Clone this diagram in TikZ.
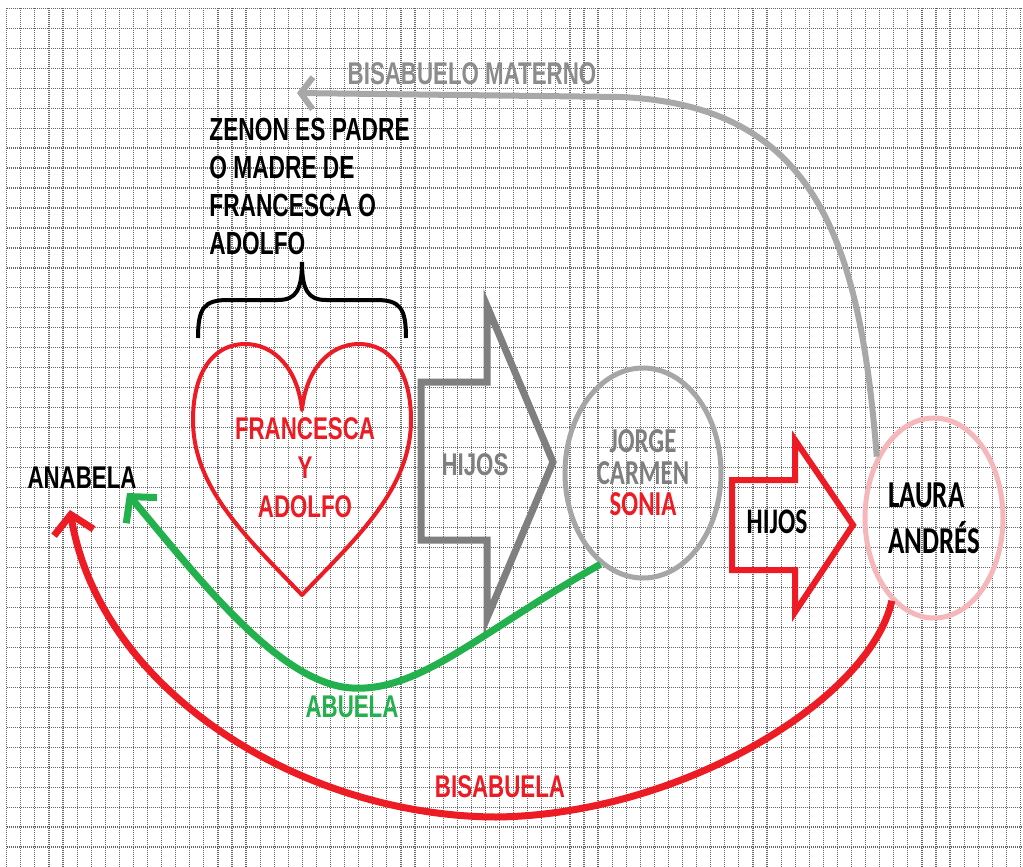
\documentclass[tikz,border=0pt]{standalone}
\usepackage{fontspec}
\setmainfont{Liberation Sans}[FakeStretch=0.71]
\newfontfamily\calibrifont{Carlito}[FakeStretch=0.71]
\usetikzlibrary{arrows.meta,shapes.geometric}

\definecolor{redx}{RGB}{237,28,36}
\definecolor{greenx}{RGB}{34,177,76}
\definecolor{arrowgray}{RGB}{127,127,127}
\definecolor{ringgray}{RGB}{166,166,166}
\definecolor{pinkring}{RGB}{245,183,186}
\definecolor{curvegray}{RGB}{168,168,168}
\definecolor{labelgray}{RGB}{140,140,140}

\tikzset{
  gridline/.style={black!60, line width=0.6pt, dash pattern=on 0.5pt off 0.5pt},
  lbl/.style={font=\bfseries\fontsize{15.7}{19.5}\selectfont, inner sep=0pt},
  cal/.style={font=\calibrifont\bfseries\fontsize{17.5}{15.75}\selectfont, inner sep=0pt},
  barb/.style={-{Straight Barb[length=9pt,width=20pt]}}
}

\begin{document}
\begin{tikzpicture}[x=0.5pt,y=-0.5pt]
    \fill[white] (0,0) rectangle (1023,867);
    \useasboundingbox (0,0) rectangle (1023,867);
    % squared paper
    \foreach \i in {0,...,72}
        \draw[gridline] ({6.7+14.08*\i},8.3) -- ({6.7+14.08*\i},867);
    \foreach \j in {0,...,42}
        \draw[gridline] (6.7,{8.3+19.97*\j}) -- (1023,{8.3+19.97*\j});

    % heart
    \draw[redx, line width=2pt, line join=round] (302,595) .. controls (250,540) and (193,490) .. (193,420)
        .. controls (193,370) and (215,344) .. (245,344) .. controls (275,344) and (298,370) .. (302,410)
        .. controls (306,370) and (329,344) .. (359,344) .. controls (389,344) and (411,370) .. (411,420)
        .. controls (411,490) and (354,540) .. (302,595) -- cycle;
    \node[lbl, redx, align=center] (fa) at (305,468) {FRANCESCA\\Y\\ADOLFO};

    % brace and note
    \draw[line width=2pt] (198,338) .. controls (198,308) and (204,300) .. (228,300) -- (278,300)
        .. controls (296,300) and (302,290) .. (302,262) .. controls (302,290) and (308,300) .. (326,300)
        -- (376,300) .. controls (400,300) and (406,308) .. (406,338);
    \node[lbl, font=\bfseries\fontsize{16}{19}\selectfont, align=left, anchor=north west] (zenon) at (209,118)
        {ZENON ES PADRE\\O MADRE DE\\FRANCESCA O\\ADOLFO};

    % block arrows
    \draw[arrowgray, line width=3.5pt] (421,382) -- (487,382) -- (487,306) -- (553,462) -- (487,618) -- (487,540) -- (421,540) -- cycle;
    \node[lbl, arrowgray] (hijosa) at (475,465) {HIJOS};
    \draw[redx, line width=3pt] (732,480) -- (795,480) -- (795,440) -- (853,525) -- (795,612) -- (795,570) -- (732,570) -- cycle;
    \node[cal, font=\calibrifont\bfseries\fontsize{18}{18}\selectfont] (hijosb) at (777,522) {HIJOS};

    % generations
    \node[ellipse, draw=ringgray, line width=2.5pt, minimum width=78pt, minimum height=105pt, cal, text=arrowgray, align=center]
        (jcs) at (643,473) {JORGE\\CARMEN\\\textcolor{redx}{SONIA}};
    \node[ellipse, draw=pinkring, line width=2.5pt, minimum width=69pt, minimum height=100pt, cal,
        font=\calibrifont\bfseries\fontsize{19}{23}\selectfont, align=left] (la) at (934,518) {LAURA\\ANDRÉS};
    \node[lbl] (anabela) at (82,478) {ANABELA};

    \coordinate (bmtip) at (297,93);
    \coordinate (abtip) at (127,493);
    \coordinate (bistip) at (70,510);

    \draw[curvegray, line width=3pt, -{Straight Barb[length=6pt,width=16pt]}] (la.133) .. controls (860,240) and (815,105) .. (620,97) -- (bmtip);
    \node[lbl, labelgray] (bmlbl) at (472,74) {BISABUELO MATERNO};

    \draw[greenx, line width=3.5pt, barb] (jcs.245) .. controls (480,632) and (420,692) .. (352,688)
        .. controls (280,684) and (200,580) .. (abtip);
    \node[lbl, greenx] (abuela) at (352,707) {ABUELA};

    \draw[redx, line width=3.5pt, barb] (la.243) .. controls (870,700) and (680,815) .. (496,817)
        .. controls (300,816) and (100,690) .. (bistip);
    \node[lbl, redx] (bisabuela) at (500,787) {BISABUELA};
\end{tikzpicture}
\end{document}
